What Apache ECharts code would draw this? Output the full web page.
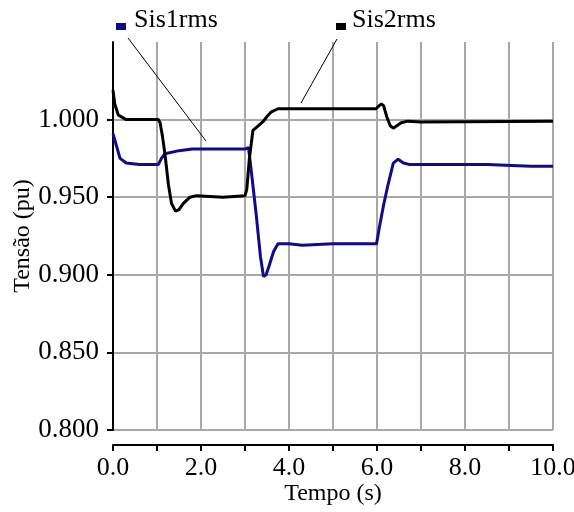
<!DOCTYPE html>
<html>
<head>
<meta charset="utf-8">
<script src="https://cdn.jsdelivr.net/npm/echarts@6/dist/echarts.min.js"></script>
<style>html,body{margin:0;padding:0;background:#fff}#c{width:574px;height:512px}</style>
</head>
<body>
<div id="c"></div>
<script>
var sis1T = [0, 0.08, 0.16, 0.3, 0.6, 1.03, 1.1, 1.18, 1.5, 1.8, 2.5, 3.0, 3.08, 3.15, 3.25, 3.35, 3.42, 3.48, 3.55, 3.65, 3.75, 4.0, 4.3, 5.0, 5.99, 6.05, 6.15, 6.25, 6.37, 6.48, 6.6, 6.75, 7.5, 8.5, 9.5, 10.0];
var sis1V = [0.991, 0.983, 0.975, 0.972, 0.971, 0.971, 0.975, 0.978, 0.980, 0.981, 0.981, 0.981, 0.982, 0.965, 0.940, 0.912, 0.899, 0.900, 0.906, 0.915, 0.920, 0.920, 0.919, 0.920, 0.920, 0.930, 0.945, 0.958, 0.972, 0.9745, 0.972, 0.971, 0.971, 0.971, 0.970, 0.970];
var sis2T = [0, 0.04, 0.12, 0.3, 1.03, 1.07, 1.12, 1.18, 1.26, 1.33, 1.42, 1.5, 1.6, 1.75, 1.9, 2.5, 3.0, 3.04, 3.1, 3.18, 3.3, 3.42, 3.5, 3.6, 3.75, 5.98, 6.05, 6.1, 6.15, 6.22, 6.3, 6.37, 6.45, 6.55, 6.7, 7.0, 10.0];
var sis2V = [1.019, 1.010, 1.003, 1.000, 1.000, 0.998, 0.990, 0.978, 0.958, 0.946, 0.941, 0.942, 0.946, 0.950, 0.951, 0.950, 0.951, 0.955, 0.975, 0.993, 0.996, 0.999, 1.002, 1.005, 1.007, 1.007, 1.009, 1.010, 1.009, 1.002, 0.996, 0.9945, 0.996, 0.998, 0.999, 0.9985, 0.999];
var yTicks = [0.80, 0.85, 0.90, 0.95, 1.00];
var seriesNames = ['Sis1rms', 'Sis2rms'];

function pairs(t, v) { return t.map(function (x, i) { return [x, v[i]]; }); }

var font = "'Liberation Serif', 'Times New Roman', Times, serif";
var gridColor = '#a8a8a8';
var blue = '#0c0c8c';

var chart = echarts.init(document.getElementById('c'));
chart.setOption({
  animation: false,
  backgroundColor: '#fff',
  grid: { left: 113, right: 21, top: 42, bottom: 82, outerBoundsMode: 'none', containLabel: false },
  xAxis: {
    type: 'value', min: 0, max: 10, interval: 1, offset: 15,
    name: 'Tempo (s)', nameLocation: 'middle', nameGap: 37, nameMoveOverlap: false,
    nameTextStyle: { fontFamily: font, fontSize: 24, color: '#000' },
    axisLine: { show: true, onZero: false, lineStyle: { color: '#000', width: 2 } },
    axisTick: { show: true, length: 6, lineStyle: { color: '#000', width: 2 } },
    axisLabel: { margin: 10, fontFamily: font, fontSize: 26, color: '#000',
      formatter: function (v) { return (Math.round(v) % 2 === 0) ? v.toFixed(1) : ''; } },
    splitLine: { show: true, lineStyle: { color: gridColor, width: 2 } }
  },
  yAxis: {
    type: 'value', min: 0.8, max: 1.05, interval: 0.05,
    name: 'Tensão (pu)', nameLocation: 'middle', nameGap: 78, nameMoveOverlap: false,
    nameTextStyle: { fontFamily: font, fontSize: 24, color: '#000' },
    axisLine: { show: true, onZero: false, lineStyle: { color: '#000', width: 2 } },
    axisTick: { show: true, length: 6, customValues: yTicks, lineStyle: { color: '#000', width: 2 } },
    axisLabel: { margin: 14, fontFamily: font, fontSize: 27, color: '#000', customValues: yTicks,
      formatter: function (v) { return v.toFixed(3); } },
    splitLine: { show: true, lineStyle: { color: gridColor, width: 2 } }
  },
  series: [
    { name: seriesNames[0], type: 'line', data: pairs(sis1T, sis1V), showSymbol: false, symbol: 'none',
      lineStyle: { color: blue, width: 3 }, itemStyle: { color: blue }, z: 3 },
    { name: seriesNames[1], type: 'line', data: pairs(sis2T, sis2V), showSymbol: false, symbol: 'none',
      lineStyle: { color: '#000', width: 3 }, itemStyle: { color: '#000' }, z: 4 }
  ],
  graphic: [
    { type: 'rect', shape: { x: 116, y: 23, width: 10, height: 7 }, style: { fill: blue } },
    { type: 'text', x: 134, y: 20, style: { text: seriesNames[0], fontFamily: font, fontSize: 26, fill: '#000', verticalAlign: 'middle' } },
    { type: 'rect', shape: { x: 336, y: 23, width: 10, height: 7 }, style: { fill: '#000' } },
    { type: 'text', x: 352, y: 20, style: { text: seriesNames[1], fontFamily: font, fontSize: 26, fill: '#000', verticalAlign: 'middle' } },
    { type: 'line', shape: { x1: 128, y1: 38, x2: 206, y2: 141 }, style: { stroke: '#000', lineWidth: 1 }, z: 10 },
    { type: 'line', shape: { x1: 337, y1: 39, x2: 301, y2: 103 }, style: { stroke: '#000', lineWidth: 1 }, z: 10 }
  ]
});
</script>
</body>
</html>
